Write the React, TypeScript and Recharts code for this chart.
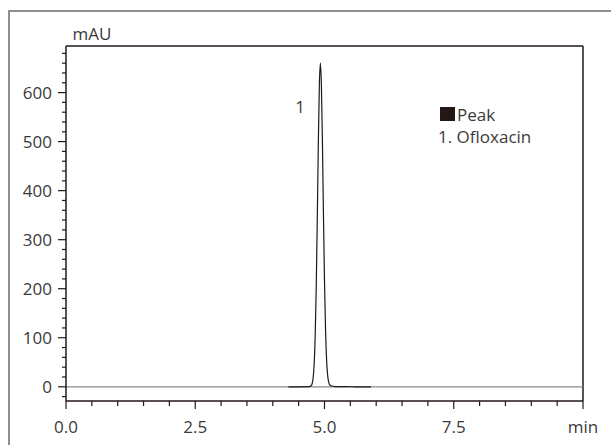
import { ComposedChart, Line, XAxis, YAxis, ReferenceLine } from 'recharts'

// retention time (min) and absorbance (mAU)
const TIMES = [
  4.3, 4.5, 4.7, 4.74, 4.76, 4.78, 4.8, 4.82, 4.84, 4.86, 4.88, 4.9, 4.92, 4.94, 4.96, 4.98, 5.0, 5.02,
  5.04, 5.06, 5.08, 5.1, 5.14, 5.2, 5.4, 5.6, 5.9,
]
const MAU = [
  0, 0, 0.3, 2, 6, 18, 46, 104, 202, 339, 491, 613, 660, 615, 497, 350, 215, 118, 56, 24, 10, 4, 1.5, 0.5,
  0.2, 0, 0,
]

const X_TICKS = [0, 0.5, 1, 1.5, 2, 2.5, 3, 3.5, 4, 4.5, 5, 5.5, 6, 6.5, 7, 7.5, 8, 8.5, 9, 9.5, 10]
const X_MAJOR = [0, 2.5, 5, 7.5, 10]
const X_LABELS = ['0.0', '2.5', '5.0', '7.5', 'min']
const Y_TICKS = [
  -20, 0, 20, 40, 60, 80, 100, 120, 140, 160, 180, 200, 220, 240, 260, 280, 300, 320, 340, 360, 380, 400, 420,
  440, 460, 480, 500, 520, 540, 560, 580, 600, 620, 640, 660, 680,
]
const Y_MAJOR = [0, 100, 200, 300, 400, 500, 600]

const Y_UNIT = 'mAU'
const PEAK_LABELS = ['1']
const LEGEND_TITLE = 'Peak'
const COMPOUNDS = ['1. Ofloxacin']

const INK = '#231815'
const TEXT = '#3a3a3a'
const FONT = '"Open Sans", "Noto Sans", sans-serif'
const FS = 17

const data = TIMES.map((t, i) => ({ t, v: MAU[i] }))

function YTick({ x, y, payload }: any) {
  const major = Y_MAJOR.includes(payload.value)
  return (
    <g>
      <line x1={x - (major ? 8 : 4)} x2={x} y1={y} y2={y} stroke={INK} strokeWidth={1.2} />
      {major && (
        <text x={x - 14} y={y} dy="0.36em" textAnchor="end" fill={TEXT} fontSize={FS} fontFamily={FONT}>
          {payload.value}
        </text>
      )}
    </g>
  )
}

function XTick({ x, y, payload }: any) {
  const idx = X_MAJOR.indexOf(payload.value)
  const major = idx >= 0
  return (
    <g>
      <line x1={x} x2={x} y1={y} y2={y + (major ? 8 : 5)} stroke={INK} strokeWidth={1.2} />
      {major && (
        <text x={x} y={y + 32} textAnchor="middle" fill={TEXT} fontSize={FS} fontFamily={FONT}>
          {X_LABELS[idx]}
        </text>
      )}
    </g>
  )
}

export default function App() {
  return (
    <div style={{ position: 'absolute', left: 0, top: 0, width: 611, height: 445, background: '#fff', overflow: 'hidden' }}>
      <div
        style={{
          position: 'absolute',
          left: 8,
          top: 10,
          width: 620,
          height: 460,
          borderTop: '2px solid #8f8f8f',
          borderLeft: '2px solid #8f8f8f',
        }}
      />
      <div style={{ position: 'absolute', left: 0, top: 0 }}>
        <ComposedChart width={611} height={445} data={data} margin={{ top: 46, right: 28, left: 0, bottom: 0 }}>
          <XAxis
            dataKey="t"
            type="number"
            domain={[0, 10]}
            ticks={X_TICKS}
            interval={0}
            tickSize={0}
            tickMargin={0}
            tickLine={false}
            tick={<XTick />}
            height={44}
            axisLine={{ stroke: INK, strokeWidth: 1.5 }}
            allowDataOverflow
          />
          <YAxis
            type="number"
            domain={[-29, 695]}
            ticks={Y_TICKS}
            interval={0}
            tickSize={0}
            tickMargin={0}
            tickLine={false}
            tick={<YTick />}
            width={66}
            axisLine={{ stroke: INK, strokeWidth: 1.5 }}
            allowDataOverflow
          />
          <ReferenceLine y={695} stroke={INK} strokeWidth={1.5} />
          <ReferenceLine x={10} stroke={INK} strokeWidth={1.5} />
          <ReferenceLine y={0} stroke="#8a8a8a" strokeWidth={1.3} />
          <Line
            dataKey="v"
            type="monotone"
            stroke={INK}
            strokeWidth={1.2}
            dot={false}
            isAnimationActive={false}
          />
        </ComposedChart>
      </div>
      <svg width={611} height={445} style={{ position: 'absolute', left: 0, top: 0, pointerEvents: 'none' }}>
        <text x={92} y={39.5} textAnchor="middle" fill={TEXT} fontSize={FS} fontFamily={FONT}>
          {Y_UNIT}
        </text>
        <text x={300} y={113} textAnchor="middle" fill={TEXT} fontSize={FS} fontFamily={FONT}>
          {PEAK_LABELS[0]}
        </text>
        <rect x={440} y={107} width={15} height={14} fill={INK} />
        <text x={457} y={120.5} fill={TEXT} fontSize={FS} fontFamily={FONT}>
          {LEGEND_TITLE}
        </text>
        {COMPOUNDS.map((c, i) => (
          <text key={c} x={438} y={143 + i * 22} fill={TEXT} fontSize={FS} fontFamily={FONT}>
            {c}
          </text>
        ))}
      </svg>
    </div>
  )
}
